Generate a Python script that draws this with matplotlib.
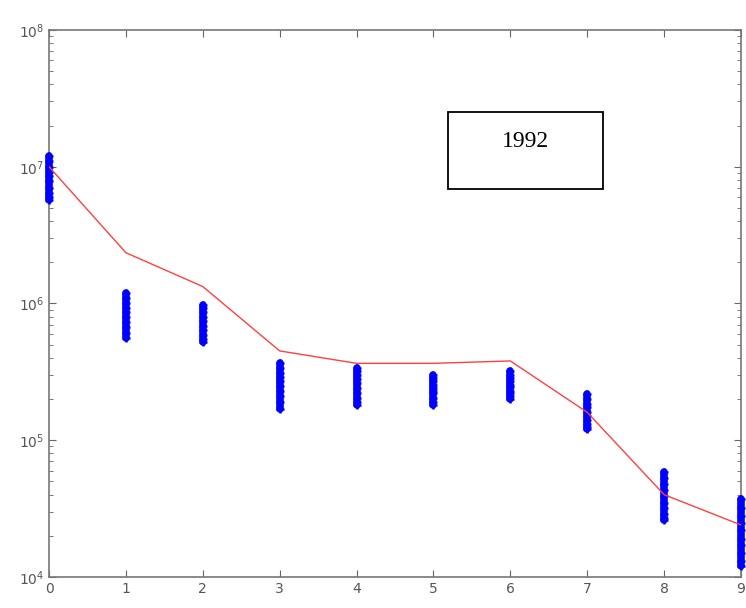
import numpy as np
import matplotlib.pyplot as plt
from matplotlib.patches import Rectangle

# age classes
ages = [0, 1, 2, 3, 4, 5, 6, 7, 8, 9]

# red line: model estimate
model = [1.0e7, 2.35e6, 1.33e6, 4.5e5, 3.65e5, 3.65e5, 3.8e5, 1.6e5, 4.0e4, 2.4e4]

samples = [
    [1.2e7, 1.1e7, 1.0e7, 9.2e6, 8.5e6, 7.8e6, 7.0e6, 6.4e6, 6.0e6, 5.7e6],
    [1.2e6, 1.1e6, 1.0e6, 9.3e5, 8.6e5, 8.0e5, 7.3e5, 6.7e5, 6.1e5, 5.6e5],
    [9.8e5, 9.2e5, 8.6e5, 8.0e5, 7.4e5, 6.9e5, 6.4e5, 5.9e5, 5.5e5, 5.2e5],
    [3.7e5, 3.4e5, 3.1e5, 2.9e5, 2.7e5, 2.5e5, 2.3e5, 2.1e5, 1.9e5, 1.7e5],
    [3.4e5, 3.2e5, 3.0e5, 2.8e5, 2.6e5, 2.4e5, 2.2e5, 2.05e5, 1.9e5, 1.8e5],
    [3.0e5, 2.85e5, 2.7e5, 2.55e5, 2.4e5, 2.3e5, 2.2e5, 2.05e5, 1.9e5, 1.8e5],
    [3.2e5, 3.0e5, 2.85e5, 2.7e5, 2.55e5, 2.45e5, 2.3e5, 2.2e5, 2.1e5, 2.0e5],
    [2.17e5, 2.0e5, 1.85e5, 1.75e5, 1.6e5, 1.5e5, 1.4e5, 1.32e5, 1.25e5, 1.2e5],
    [5.9e4, 5.3e4, 4.8e4, 4.3e4, 3.9e4, 3.5e4, 3.2e4, 2.9e4, 2.7e4, 2.6e4],
    [3.7e4, 3.2e4, 2.8e4, 2.5e4, 2.2e4, 1.9e4, 1.7e4, 1.5e4, 1.3e4, 1.2e4],
]

fig = plt.figure(figsize=(7.46, 6.08), dpi=100)
ax = fig.add_axes([0.0657, 0.051, 0.9276, 0.8997])

for a, vals in zip(ages, samples):
    ax.plot([a] * len(vals), vals, linestyle='-', color='#0000ff', linewidth=5.5,
            solid_capstyle='round', clip_on=False, zorder=3)
    ax.plot([a] * len(vals), vals, '+', color='#0000ff', markersize=6,
            markeredgewidth=1.8, clip_on=False, zorder=3)

ax.plot(ages, model, color='#ff4040', linewidth=1.0, zorder=4)

ax.set_yscale('log')
ax.set_xlim(0, 9)
ax.set_ylim(1e4, 1e8)
ax.set_xticks(ages)

grey = '#555555'
for s in ax.spines.values():
    s.set_color('#777777')
    s.set_linewidth(1.2)
ax.tick_params(which='both', direction='in', top=True, right=True,
               colors='#666666', labelcolor=grey, labelsize=10)
ax.tick_params(which='major', length=5)
ax.tick_params(which='minor', length=3)

# year label box
fig.patches.append(Rectangle((0.6005, 0.689), 0.2078, 0.1266, transform=fig.transFigure,
                             fill=False, edgecolor='black', linewidth=1.3))
fig.text(0.704, 0.768, '1992', ha='center', va='center', fontsize=17,
         family='Liberation Serif', color='black')

fig.savefig('out.png', dpi=100)
